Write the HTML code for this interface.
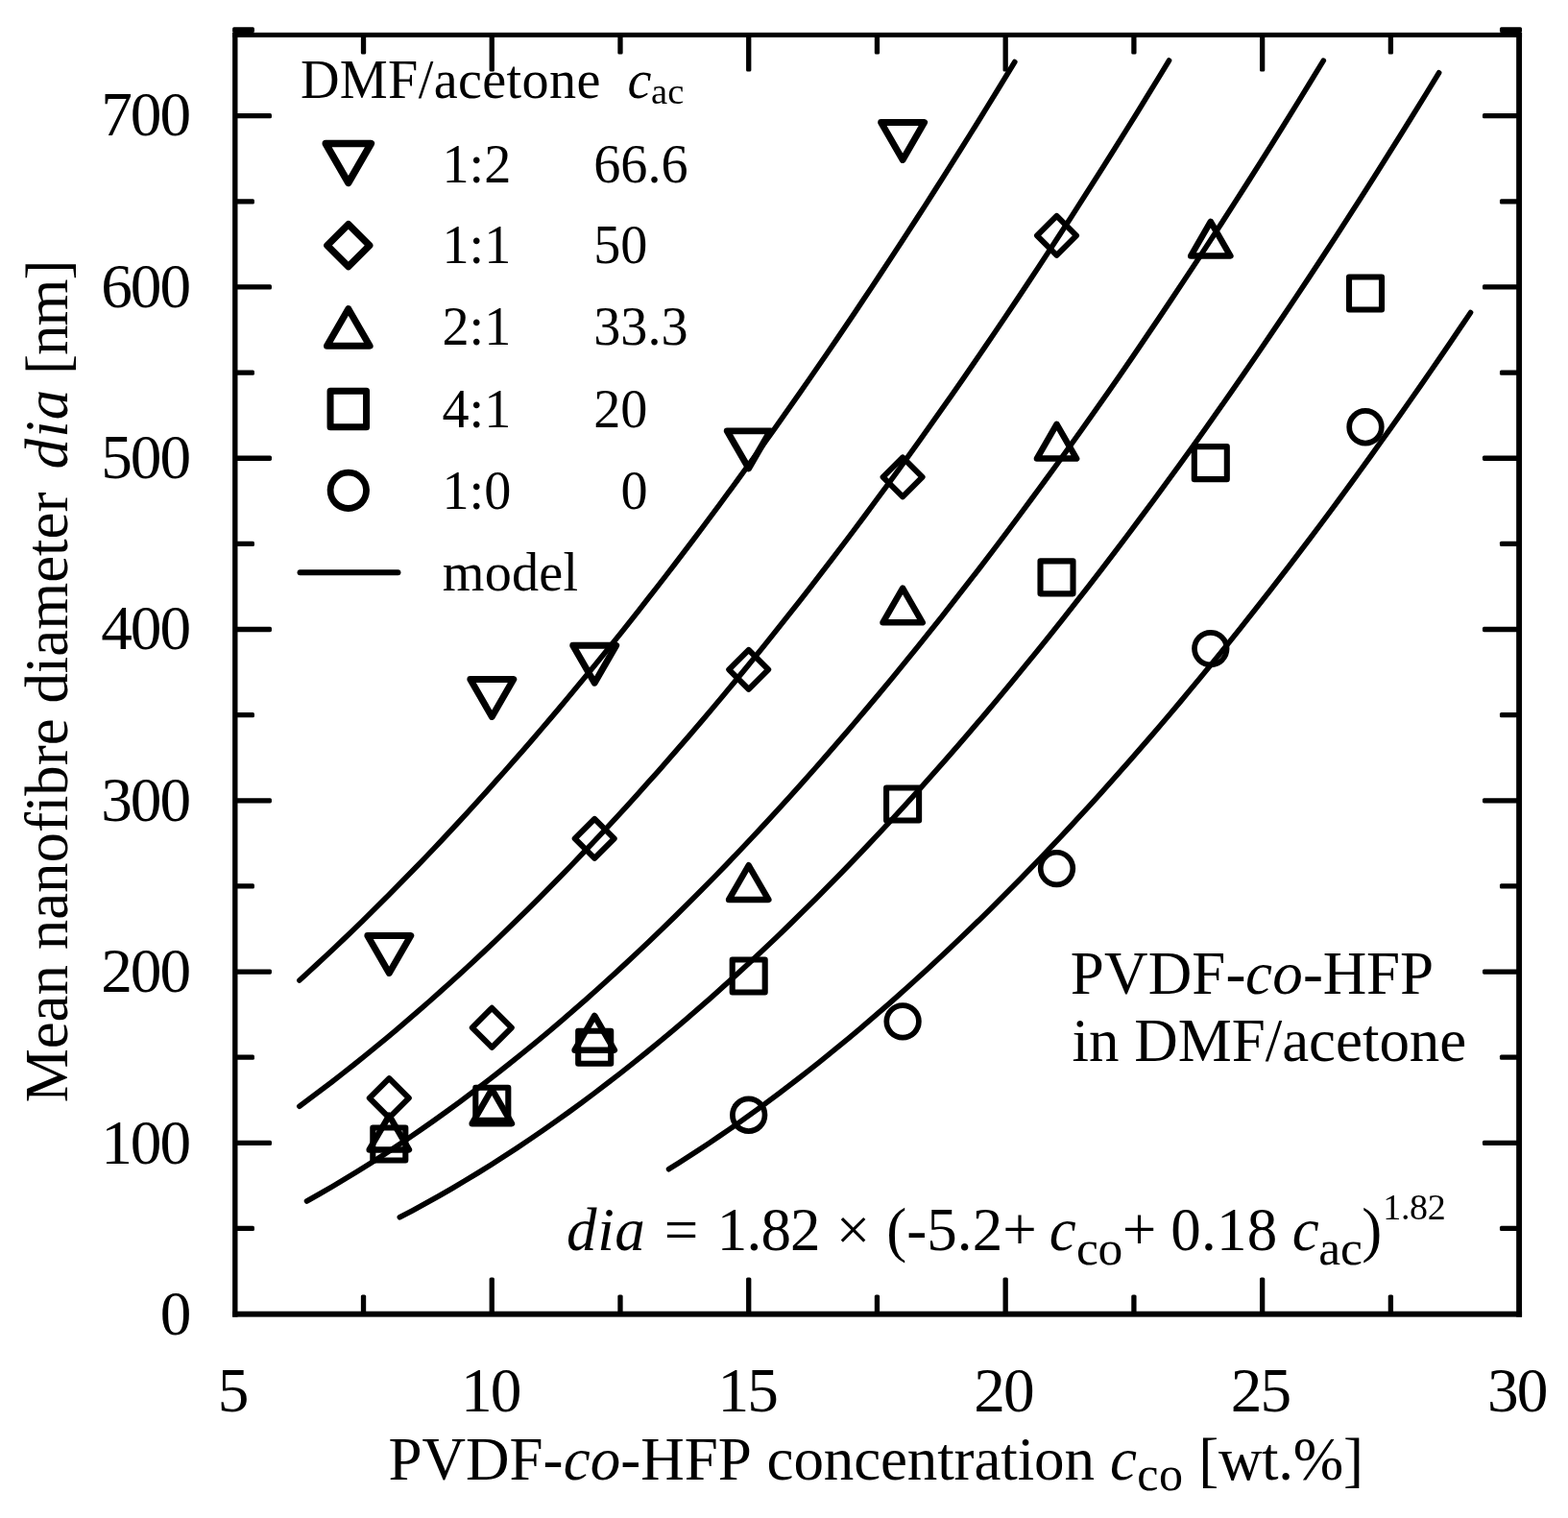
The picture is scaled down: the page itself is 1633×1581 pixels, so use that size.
<!DOCTYPE html>
<html lang="en">
<head>
<meta charset="utf-8">
<title>Mean nanofibre diameter vs PVDF-co-HFP concentration</title>
<style>
html, body { margin: 0; padding: 0; background: #fff; }
body { width: 1633px; height: 1581px; overflow: hidden; }
svg { display: block; }
</style>
</head>
<body>
<svg width="1633" height="1581" viewBox="0 0 1633 1581" font-family='"Liberation Serif", "Times New Roman", serif' fill="#000">
<rect x="0" y="0" width="1633" height="1581" fill="#fff"/>
<g id="curves">
<path d="M311.88,1021.00 L321.19,1012.51 L330.50,1003.93 L339.81,995.25 L349.13,986.49 L358.44,977.63 L367.75,968.68 L377.06,959.64 L386.37,950.51 L395.68,941.29 L405.00,931.98 L414.31,922.57 L423.62,913.08 L432.93,903.50 L442.24,893.83 L451.55,884.06 L460.86,874.21 L470.18,864.27 L479.49,854.24 L488.80,844.12 L498.11,833.91 L507.42,823.62 L516.73,813.23 L526.05,802.76 L535.36,792.20 L544.67,781.55 L553.98,770.81 L563.29,759.99 L572.60,749.08 L581.92,738.08 L591.23,726.99 L600.54,715.82 L609.85,704.56 L619.16,693.21 L628.47,681.78 L637.79,670.26 L647.10,658.66 L656.41,646.96 L665.72,635.19 L675.03,623.32 L684.34,611.37 L693.66,599.34 L702.97,587.22 L712.28,575.01 L721.59,562.72 L730.90,550.35 L740.21,537.89 L749.53,525.34 L758.84,512.71 L768.15,500.00 L777.46,487.20 L786.77,474.31 L796.08,461.35 L805.39,448.29 L814.71,435.16 L824.02,421.94 L833.33,408.64 L842.64,395.25 L851.95,381.78 L861.26,368.23 L870.58,354.59 L879.89,340.87 L889.20,327.07 L898.51,313.18 L907.82,299.21 L917.13,285.16 L926.45,271.03 L935.76,256.81 L945.07,242.51 L954.38,228.13 L963.69,213.67 L973.00,199.12 L982.32,184.50 L991.63,169.79 L1000.94,155.00 L1010.25,140.12 L1019.56,125.17 L1028.87,110.13 L1038.19,95.02 L1047.50,79.82 L1056.81,64.54" fill="none" stroke="#000" stroke-width="5.6" stroke-linecap="round" stroke-linejoin="round"/>
<path d="M311.80,1152.18 L323.13,1143.81 L334.45,1135.31 L345.77,1126.66 L357.09,1117.87 L368.41,1108.93 L379.74,1099.86 L391.06,1090.65 L402.38,1081.30 L413.70,1071.80 L425.02,1062.17 L436.34,1052.40 L447.67,1042.50 L458.99,1032.45 L470.31,1022.27 L481.63,1011.95 L492.95,1001.50 L504.28,990.91 L515.60,980.18 L526.92,969.32 L538.24,958.33 L549.56,947.20 L560.88,935.93 L572.21,924.53 L583.53,913.00 L594.85,901.34 L606.17,889.54 L617.49,877.61 L628.82,865.55 L640.14,853.36 L651.46,841.03 L662.78,828.58 L674.10,815.99 L685.43,803.27 L696.75,790.43 L708.07,777.45 L719.39,764.34 L730.71,751.11 L742.03,737.74 L753.36,724.25 L764.68,710.63 L776.00,696.88 L787.32,683.00 L798.64,668.99 L809.97,654.86 L821.29,640.60 L832.61,626.21 L843.93,611.69 L855.25,597.05 L866.57,582.28 L877.90,567.39 L889.22,552.37 L900.54,537.22 L911.86,521.95 L923.18,506.56 L934.51,491.04 L945.83,475.39 L957.15,459.62 L968.47,443.73 L979.79,427.71 L991.12,411.57 L1002.44,395.31 L1013.76,378.92 L1025.08,362.40 L1036.40,345.77 L1047.72,329.01 L1059.05,312.13 L1070.37,295.13 L1081.69,278.00 L1093.01,260.76 L1104.33,243.39 L1115.66,225.90 L1126.98,208.29 L1138.30,190.55 L1149.62,172.70 L1160.94,154.73 L1172.26,136.63 L1183.59,118.41 L1194.91,100.08 L1206.23,81.62 L1217.55,63.04" fill="none" stroke="#000" stroke-width="5.6" stroke-linecap="round" stroke-linejoin="round"/>
<path d="M319.51,1250.98 L332.74,1243.52 L345.98,1235.84 L359.21,1227.96 L372.45,1219.87 L385.68,1211.58 L398.92,1203.09 L412.15,1194.40 L425.39,1185.51 L438.62,1176.42 L451.86,1167.13 L465.09,1157.65 L478.33,1147.97 L491.56,1138.09 L504.79,1128.02 L518.03,1117.76 L531.26,1107.30 L544.50,1096.65 L557.73,1085.81 L570.97,1074.78 L584.20,1063.56 L597.44,1052.15 L610.67,1040.55 L623.91,1028.76 L637.14,1016.79 L650.38,1004.63 L663.61,992.28 L676.85,979.75 L690.08,967.03 L703.32,954.13 L716.55,941.05 L729.79,927.79 L743.02,914.34 L756.26,900.71 L769.49,886.89 L782.73,872.90 L795.96,858.73 L809.20,844.38 L822.43,829.85 L835.67,815.13 L848.90,800.25 L862.14,785.18 L875.37,769.94 L888.61,754.51 L901.84,738.92 L915.08,723.14 L928.31,707.19 L941.55,691.07 L954.78,674.77 L968.01,658.30 L981.25,641.65 L994.48,624.83 L1007.72,607.84 L1020.95,590.67 L1034.19,573.33 L1047.42,555.82 L1060.66,538.14 L1073.89,520.28 L1087.13,502.26 L1100.36,484.06 L1113.60,465.69 L1126.83,447.16 L1140.07,428.45 L1153.30,409.58 L1166.54,390.54 L1179.77,371.32 L1193.01,351.94 L1206.24,332.40 L1219.48,312.68 L1232.71,292.80 L1245.95,272.75 L1259.18,252.53 L1272.42,232.15 L1285.65,211.60 L1298.89,190.88 L1312.12,170.00 L1325.36,148.96 L1338.59,127.75 L1351.83,106.37 L1365.06,84.83 L1378.30,63.13" fill="none" stroke="#000" stroke-width="5.6" stroke-linecap="round" stroke-linejoin="round"/>
<path d="M416.30,1267.80 L429.82,1260.67 L443.35,1253.32 L456.88,1245.75 L470.41,1237.96 L483.94,1229.96 L497.47,1221.74 L511.00,1213.32 L524.53,1204.68 L538.06,1195.83 L551.59,1186.77 L565.12,1177.50 L578.65,1168.03 L592.18,1158.35 L605.71,1148.47 L619.24,1138.38 L632.77,1128.09 L646.30,1117.59 L659.83,1106.90 L673.36,1096.00 L686.88,1084.91 L700.41,1073.61 L713.94,1062.12 L727.47,1050.43 L741.00,1038.54 L754.53,1026.46 L768.06,1014.18 L781.59,1001.70 L795.12,989.04 L808.65,976.17 L822.18,963.12 L835.71,949.87 L849.24,936.44 L862.77,922.81 L876.30,908.99 L889.83,894.98 L903.36,880.78 L916.89,866.39 L930.41,851.82 L943.94,837.06 L957.47,822.11 L971.00,806.97 L984.53,791.65 L998.06,776.14 L1011.59,760.45 L1025.12,744.57 L1038.65,728.51 L1052.18,712.26 L1065.71,695.83 L1079.24,679.22 L1092.77,662.43 L1106.30,645.45 L1119.83,628.30 L1133.36,610.96 L1146.89,593.44 L1160.42,575.74 L1173.95,557.86 L1187.47,539.80 L1201.00,521.57 L1214.53,503.15 L1228.06,484.56 L1241.59,465.79 L1255.12,446.84 L1268.65,427.71 L1282.18,408.41 L1295.71,388.93 L1309.24,369.27 L1322.77,349.44 L1336.30,329.43 L1349.83,309.25 L1363.36,288.89 L1376.89,268.36 L1390.42,247.66 L1403.95,226.78 L1417.48,205.72 L1431.01,184.50 L1444.53,163.10 L1458.06,141.53 L1471.59,119.78 L1485.12,97.87 L1498.65,75.78" fill="none" stroke="#000" stroke-width="5.6" stroke-linecap="round" stroke-linejoin="round"/>
<path d="M696.54,1217.72 L706.98,1211.16 L717.42,1204.48 L727.85,1197.66 L738.29,1190.73 L748.73,1183.67 L759.17,1176.48 L769.60,1169.17 L780.04,1161.74 L790.48,1154.19 L800.92,1146.52 L811.35,1138.72 L821.79,1130.81 L832.23,1122.77 L842.67,1114.61 L853.10,1106.33 L863.54,1097.94 L873.98,1089.42 L884.42,1080.79 L894.85,1072.04 L905.29,1063.16 L915.73,1054.18 L926.17,1045.07 L936.61,1035.85 L947.04,1026.51 L957.48,1017.05 L967.92,1007.48 L978.36,997.80 L988.79,987.99 L999.23,978.08 L1009.67,968.05 L1020.11,957.90 L1030.54,947.64 L1040.98,937.26 L1051.42,926.77 L1061.86,916.17 L1072.29,905.46 L1082.73,894.63 L1093.17,883.69 L1103.61,872.64 L1114.05,861.47 L1124.48,850.20 L1134.92,838.81 L1145.36,827.31 L1155.80,815.70 L1166.23,803.97 L1176.67,792.14 L1187.11,780.20 L1197.55,768.15 L1207.98,755.98 L1218.42,743.71 L1228.86,731.33 L1239.30,718.83 L1249.73,706.23 L1260.17,693.52 L1270.61,680.71 L1281.05,667.78 L1291.48,654.74 L1301.92,641.60 L1312.36,628.35 L1322.80,614.99 L1333.24,601.52 L1343.67,587.95 L1354.11,574.26 L1364.55,560.48 L1374.99,546.58 L1385.42,532.58 L1395.86,518.47 L1406.30,504.25 L1416.74,489.93 L1427.17,475.51 L1437.61,460.97 L1448.05,446.34 L1458.49,431.59 L1468.92,416.74 L1479.36,401.79 L1489.80,386.73 L1500.24,371.57 L1510.67,356.30 L1521.11,340.93 L1531.55,325.45" fill="none" stroke="#000" stroke-width="5.6" stroke-linecap="round" stroke-linejoin="round"/>
</g>
<g id="axes" fill="#000" stroke="none">
<rect x="242.10" y="33.90" width="1342.95" height="5.00" rx="0" ry="0"/>
<rect x="242.10" y="1365.70" width="1342.95" height="5.90" rx="0" ry="0"/>
<rect x="242.10" y="33.90" width="5.40" height="1337.70" rx="0" ry="0"/>
<rect x="1579.15" y="33.90" width="5.90" height="1337.70" rx="0" ry="0"/>
<rect x="375.88" y="1348.50" width="5.30" height="20.15" rx="1.6" ry="1.6"/>
<rect x="375.88" y="36.40" width="5.30" height="20.15" rx="1.6" ry="1.6"/>
<rect x="509.61" y="1330.50" width="5.30" height="38.15" rx="1.6" ry="1.6"/>
<rect x="509.61" y="36.40" width="5.30" height="38.15" rx="1.6" ry="1.6"/>
<rect x="643.34" y="1348.50" width="5.30" height="20.15" rx="1.6" ry="1.6"/>
<rect x="643.34" y="36.40" width="5.30" height="20.15" rx="1.6" ry="1.6"/>
<rect x="777.07" y="1330.50" width="5.30" height="38.15" rx="1.6" ry="1.6"/>
<rect x="777.07" y="36.40" width="5.30" height="38.15" rx="1.6" ry="1.6"/>
<rect x="910.80" y="1348.50" width="5.30" height="20.15" rx="1.6" ry="1.6"/>
<rect x="910.80" y="36.40" width="5.30" height="20.15" rx="1.6" ry="1.6"/>
<rect x="1044.53" y="1330.50" width="5.30" height="38.15" rx="1.6" ry="1.6"/>
<rect x="1044.53" y="36.40" width="5.30" height="38.15" rx="1.6" ry="1.6"/>
<rect x="1178.26" y="1348.50" width="5.30" height="20.15" rx="1.6" ry="1.6"/>
<rect x="1178.26" y="36.40" width="5.30" height="20.15" rx="1.6" ry="1.6"/>
<rect x="1311.99" y="1330.50" width="5.30" height="38.15" rx="1.6" ry="1.6"/>
<rect x="1311.99" y="36.40" width="5.30" height="38.15" rx="1.6" ry="1.6"/>
<rect x="1445.72" y="1348.50" width="5.30" height="20.15" rx="1.6" ry="1.6"/>
<rect x="1445.72" y="36.40" width="5.30" height="20.15" rx="1.6" ry="1.6"/>
<rect x="244.80" y="1276.81" width="20.15" height="5.30" rx="1.6" ry="1.6"/>
<rect x="1561.95" y="1276.81" width="20.15" height="5.30" rx="1.6" ry="1.6"/>
<rect x="244.80" y="1187.68" width="38.15" height="5.30" rx="1.6" ry="1.6"/>
<rect x="1543.95" y="1187.68" width="38.15" height="5.30" rx="1.6" ry="1.6"/>
<rect x="244.80" y="1098.54" width="20.15" height="5.30" rx="1.6" ry="1.6"/>
<rect x="1561.95" y="1098.54" width="20.15" height="5.30" rx="1.6" ry="1.6"/>
<rect x="244.80" y="1009.41" width="38.15" height="5.30" rx="1.6" ry="1.6"/>
<rect x="1543.95" y="1009.41" width="38.15" height="5.30" rx="1.6" ry="1.6"/>
<rect x="244.80" y="920.27" width="20.15" height="5.30" rx="1.6" ry="1.6"/>
<rect x="1561.95" y="920.27" width="20.15" height="5.30" rx="1.6" ry="1.6"/>
<rect x="244.80" y="831.14" width="38.15" height="5.30" rx="1.6" ry="1.6"/>
<rect x="1543.95" y="831.14" width="38.15" height="5.30" rx="1.6" ry="1.6"/>
<rect x="244.80" y="742.00" width="20.15" height="5.30" rx="1.6" ry="1.6"/>
<rect x="1561.95" y="742.00" width="20.15" height="5.30" rx="1.6" ry="1.6"/>
<rect x="244.80" y="652.86" width="38.15" height="5.30" rx="1.6" ry="1.6"/>
<rect x="1543.95" y="652.86" width="38.15" height="5.30" rx="1.6" ry="1.6"/>
<rect x="244.80" y="563.73" width="20.15" height="5.30" rx="1.6" ry="1.6"/>
<rect x="1561.95" y="563.73" width="20.15" height="5.30" rx="1.6" ry="1.6"/>
<rect x="244.80" y="474.59" width="38.15" height="5.30" rx="1.6" ry="1.6"/>
<rect x="1543.95" y="474.59" width="38.15" height="5.30" rx="1.6" ry="1.6"/>
<rect x="244.80" y="385.46" width="20.15" height="5.30" rx="1.6" ry="1.6"/>
<rect x="1561.95" y="385.46" width="20.15" height="5.30" rx="1.6" ry="1.6"/>
<rect x="244.80" y="296.32" width="38.15" height="5.30" rx="1.6" ry="1.6"/>
<rect x="1543.95" y="296.32" width="38.15" height="5.30" rx="1.6" ry="1.6"/>
<rect x="244.80" y="207.19" width="20.15" height="5.30" rx="1.6" ry="1.6"/>
<rect x="1561.95" y="207.19" width="20.15" height="5.30" rx="1.6" ry="1.6"/>
<rect x="244.80" y="118.05" width="38.15" height="5.30" rx="1.6" ry="1.6"/>
<rect x="1543.95" y="118.05" width="38.15" height="5.30" rx="1.6" ry="1.6"/>
<rect x="242.10" y="28.31" width="22.85" height="5.70" rx="1.6" ry="1.6"/>
<rect x="1561.95" y="28.31" width="23.10" height="5.70" rx="1.6" ry="1.6"/>
</g>
<g id="data">
<circle cx="779.70" cy="1161.25" r="16.80" fill="none" stroke="#000" stroke-width="5.7"/>
<circle cx="940.10" cy="1063.85" r="16.80" fill="none" stroke="#000" stroke-width="5.7"/>
<circle cx="1100.50" cy="904.55" r="16.80" fill="none" stroke="#000" stroke-width="5.7"/>
<circle cx="1260.80" cy="675.60" r="16.80" fill="none" stroke="#000" stroke-width="5.7"/>
<circle cx="1422.00" cy="444.75" r="16.80" fill="none" stroke="#000" stroke-width="5.7"/>
<rect x="388.30" y="1174.45" width="34.00" height="34.00" fill="none" stroke="#000" stroke-width="6.1" stroke-linejoin="round"/>
<rect x="495.30" y="1132.75" width="34.00" height="34.00" fill="none" stroke="#000" stroke-width="6.1" stroke-linejoin="round"/>
<rect x="602.20" y="1073.75" width="34.00" height="34.00" fill="none" stroke="#000" stroke-width="6.1" stroke-linejoin="round"/>
<rect x="762.70" y="999.55" width="34.00" height="34.00" fill="none" stroke="#000" stroke-width="6.1" stroke-linejoin="round"/>
<rect x="923.10" y="820.45" width="34.00" height="34.00" fill="none" stroke="#000" stroke-width="6.1" stroke-linejoin="round"/>
<rect x="1083.50" y="584.35" width="34.00" height="34.00" fill="none" stroke="#000" stroke-width="6.1" stroke-linejoin="round"/>
<rect x="1243.80" y="465.15" width="34.00" height="34.00" fill="none" stroke="#000" stroke-width="6.1" stroke-linejoin="round"/>
<rect x="1405.00" y="288.50" width="34.00" height="34.00" fill="none" stroke="#000" stroke-width="6.1" stroke-linejoin="round"/>
<path d="M405.30,1161.76 L425.90,1197.44 L384.70,1197.44 Z" fill="none" stroke="#000" stroke-width="6.5" stroke-linejoin="round"/>
<path d="M512.30,1134.46 L532.90,1170.14 L491.70,1170.14 Z" fill="none" stroke="#000" stroke-width="6.5" stroke-linejoin="round"/>
<path d="M619.20,1057.96 L639.80,1093.64 L598.60,1093.64 Z" fill="none" stroke="#000" stroke-width="6.5" stroke-linejoin="round"/>
<path d="M779.70,901.26 L800.30,936.94 L759.10,936.94 Z" fill="none" stroke="#000" stroke-width="6.5" stroke-linejoin="round"/>
<path d="M940.10,612.66 L960.70,648.34 L919.50,648.34 Z" fill="none" stroke="#000" stroke-width="6.5" stroke-linejoin="round"/>
<path d="M1100.50,441.91 L1121.10,477.59 L1079.90,477.59 Z" fill="none" stroke="#000" stroke-width="6.5" stroke-linejoin="round"/>
<path d="M1260.80,230.86 L1281.40,266.54 L1240.20,266.54 Z" fill="none" stroke="#000" stroke-width="6.5" stroke-linejoin="round"/>
<path d="M405.30,1123.10 L425.80,1143.60 L405.30,1164.10 L384.80,1143.60 Z" fill="none" stroke="#000" stroke-width="6.0" stroke-linejoin="round"/>
<path d="M512.30,1049.80 L532.80,1070.30 L512.30,1090.80 L491.80,1070.30 Z" fill="none" stroke="#000" stroke-width="6.0" stroke-linejoin="round"/>
<path d="M619.20,852.85 L639.70,873.35 L619.20,893.85 L598.70,873.35 Z" fill="none" stroke="#000" stroke-width="6.0" stroke-linejoin="round"/>
<path d="M779.70,676.85 L800.20,697.35 L779.70,717.85 L759.20,697.35 Z" fill="none" stroke="#000" stroke-width="6.0" stroke-linejoin="round"/>
<path d="M940.10,476.35 L960.60,496.85 L940.10,517.35 L919.60,496.85 Z" fill="none" stroke="#000" stroke-width="6.0" stroke-linejoin="round"/>
<path d="M1100.50,224.85 L1121.00,245.35 L1100.50,265.85 L1080.00,245.35 Z" fill="none" stroke="#000" stroke-width="6.0" stroke-linejoin="round"/>
<path d="M405.30,1013.44 L427.80,974.46 L382.80,974.46 Z" fill="none" stroke="#000" stroke-width="6.9" stroke-linejoin="round"/>
<path d="M512.30,746.49 L534.80,707.51 L489.80,707.51 Z" fill="none" stroke="#000" stroke-width="6.9" stroke-linejoin="round"/>
<path d="M619.20,711.19 L641.70,672.21 L596.70,672.21 Z" fill="none" stroke="#000" stroke-width="6.9" stroke-linejoin="round"/>
<path d="M779.70,487.84 L802.20,448.86 L757.20,448.86 Z" fill="none" stroke="#000" stroke-width="6.9" stroke-linejoin="round"/>
<path d="M940.10,166.49 L962.60,127.51 L917.60,127.51 Z" fill="none" stroke="#000" stroke-width="6.9" stroke-linejoin="round"/>
</g>
<g id="legend-markers">
<path d="M362.80,190.39 L386.35,149.61 L339.25,149.61 Z" fill="none" stroke="#000" stroke-width="7.5" stroke-linejoin="round"/>
<path d="M362.80,233.65 L384.80,255.65 L362.80,277.65 L340.80,255.65 Z" fill="none" stroke="#000" stroke-width="7.2" stroke-linejoin="round"/>
<path d="M362.80,321.68 L385.05,360.22 L340.55,360.22 Z" fill="none" stroke="#000" stroke-width="7.1" stroke-linejoin="round"/>
<rect x="344.05" y="407.20" width="37.50" height="37.50" fill="none" stroke="#000" stroke-width="7.0" stroke-linejoin="round"/>
<circle cx="362.80" cy="510.80" r="18.70" fill="none" stroke="#000" stroke-width="6.8"/>
<line x1="312.5" y1="596.2" x2="414.5" y2="596.2" stroke="#000" stroke-width="5.9" stroke-linecap="round"/>
</g>
<g id="xtitle">
<text><tspan x="404.44" y="1540.8" font-size="63" letter-spacing="-0.005">PVDF-</tspan><tspan x="586.66" y="1540.8" font-size="63" font-style="italic" letter-spacing="0.046">co</tspan><tspan x="646.26" y="1540.8" font-size="63" letter-spacing="-0.034">-HFP </tspan><tspan x="798.6" y="1540.8" font-size="63" letter-spacing="-0.124">concentration </tspan><tspan x="1155.99" y="1540.8" font-size="63" font-style="italic">c</tspan><tspan x="1184.3" y="1552" font-size="50" letter-spacing="0.405">co </tspan><tspan x="1248.22" y="1540.8" font-size="63" letter-spacing="-0.290">[wt.%]</tspan></text>
</g>
<g id="ytitle">
<text transform="translate(70,0) rotate(-90)"><tspan x="-1148.31" y="0" font-size="63" letter-spacing="-0.043">Mean nanofibre diameter </tspan><tspan x="-488.51" y="0" font-size="63" font-style="italic" letter-spacing="1.130">dia </tspan><tspan x="-390.08" y="0" font-size="63" letter-spacing="-1.006">[nm]</tspan></text>
</g>
<g id="annot">
<text><tspan x="1114.79" y="1035" font-size="63" letter-spacing="0.182">PVDF-</tspan><tspan x="1297.06" y="1035" font-size="63" font-style="italic" letter-spacing="0.346">co</tspan><tspan x="1356.96" y="1035" font-size="63" letter-spacing="-0.167">-HFP</tspan></text>
<text x="1116.58" y="1105" font-size="63" letter-spacing="-0.036">in DMF/acetone</text>
</g>
<g id="formula">
<text><tspan x="590.09" y="1302" font-size="63" font-style="italic" letter-spacing="0.580">dia </tspan><tspan x="691.8" y="1302" font-size="63">= </tspan><tspan x="746.86" y="1302" font-size="63" letter-spacing="-0.846">1.82 </tspan><tspan x="870.7" y="1302" font-size="63">× </tspan><tspan x="923.23" y="1302" font-size="63" letter-spacing="0.059">(-5.2+ </tspan><tspan x="1092.69" y="1302" font-size="63" font-style="italic">c</tspan><tspan x="1120.94" y="1316.5" font-size="51.5" letter-spacing="-0.187">co</tspan><tspan x="1168.8" y="1302" font-size="63">+ </tspan><tspan x="1219.2" y="1302" font-size="63" letter-spacing="0.250">0.18 </tspan><tspan x="1345.79" y="1302" font-size="63" font-style="italic">c</tspan><tspan x="1373.19" y="1316.8" font-size="51.5" letter-spacing="-0.124">ac</tspan><tspan x="1418.28" y="1302" font-size="63">)</tspan><tspan x="1440.36" y="1270.2" font-size="38" letter-spacing="-0.388">1.82</tspan></text>
</g>
<g id="legend">
<text><tspan x="312.88" y="101.8" font-size="56.2" letter-spacing="0.351">DMF/acetone </tspan><tspan x="653.56" y="101.8" font-size="56.2" font-style="italic">c</tspan><tspan x="677.94" y="107.5" font-size="38.6" letter-spacing="0.094">ac</tspan></text>
<text><tspan x="460.5" y="189.8" font-size="56.2">1:2 </tspan><tspan x="618.2" y="189.8" font-size="56.2">66.6</tspan></text>
<text><tspan x="460.5" y="274.4" font-size="56.2">1:1 </tspan><tspan x="618.2" y="274.4" font-size="56.2">50</tspan></text>
<text><tspan x="460.5" y="359.4" font-size="56.2">2:1 </tspan><tspan x="618.2" y="359.4" font-size="56.2">33.3</tspan></text>
<text><tspan x="460.5" y="444.5" font-size="56.2">4:1 </tspan><tspan x="618.2" y="444.5" font-size="56.2">20</tspan></text>
<text><tspan x="460.5" y="530.4" font-size="56.2">1:0 </tspan><tspan x="646.5" y="530.4" font-size="56.2">0</tspan></text>
<text x="460.82" y="614.6" font-size="56.2" letter-spacing="0.213">model</text>
</g>
<g id="yticks">
<text x="166.63" y="1390.3" font-size="65.3" letter-spacing="-1.900">0</text>
<text x="105.13" y="1211.84" font-size="65.3" letter-spacing="-1.900">100</text>
<text x="105.13" y="1033.39" font-size="65.3" letter-spacing="-1.900">200</text>
<text x="105.13" y="854.93" font-size="65.3" letter-spacing="-1.900">300</text>
<text x="105.13" y="676.47" font-size="65.3" letter-spacing="-1.900">400</text>
<text x="105.13" y="498.01" font-size="65.3" letter-spacing="-1.900">500</text>
<text x="105.13" y="319.56" font-size="65.3" letter-spacing="-1.900">600</text>
<text x="105.13" y="141.1" font-size="65.3" letter-spacing="-1.900">700</text>
</g>
<g id="xticks">
<text x="226.85" y="1470" font-size="65.3" letter-spacing="-1.900">5</text>
<text x="479.94" y="1470" font-size="65.3" letter-spacing="-1.900">10</text>
<text x="747.43" y="1470" font-size="65.3" letter-spacing="-1.900">15</text>
<text x="1014.29" y="1470" font-size="65.3" letter-spacing="-1.900">20</text>
<text x="1281.78" y="1470" font-size="65.3" letter-spacing="-1.900">25</text>
<text x="1549.08" y="1470" font-size="65.3" letter-spacing="-1.900">30</text>
</g>
</svg>
</body>
</html>
